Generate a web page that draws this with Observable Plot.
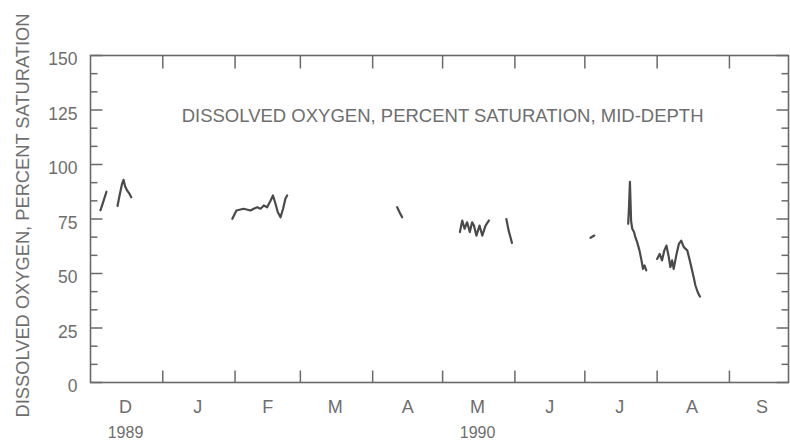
<!DOCTYPE html>
<html>
<head>
<meta charset="utf-8">
<script src="https://cdn.jsdelivr.net/npm/d3@7"></script>
<script src="https://cdn.jsdelivr.net/npm/@observablehq/plot@0.6"></script>
<style>
  html, body { margin: 0; padding: 0; background: #fff; }
</style>
</head>
<body>
<div id="chart"></div>
<script>
// ---- data ----
const times = [
  "1989-12-05 06", "1989-12-06 12", "1989-12-07 20",
  "1989-12-12 14", "1989-12-13 12", "1989-12-14 12", "1989-12-15 04", "1989-12-15 20", "1989-12-16 18", "1989-12-17 18", "1989-12-18 12",
  "1990-01-30 20", "1990-02-01 14", "1990-02-04 16", "1990-02-07 14", "1990-02-09 00", "1990-02-10 12", "1990-02-11 22", "1990-02-13 08", "1990-02-14 18", "1990-02-16 06", "1990-02-17 06", "1990-02-18 08", "1990-02-19 08", "1990-02-20 12", "1990-02-21 14", "1990-02-22 14", "1990-02-23 08",
  "1990-04-11 12", "1990-04-12 14", "1990-04-13 16",
  "1990-05-08 10", "1990-05-09 10", "1990-05-10 10", "1990-05-11 12", "1990-05-12 16", "1990-05-13 16", "1990-05-14 10", "1990-05-15 12", "1990-05-16 20", "1990-05-18 00", "1990-05-19 10", "1990-05-20 20",
  "1990-05-28 08", "1990-05-29 06", "1990-05-30 18",
  "1990-07-03 10", "1990-07-05 02",
  "1990-07-19 14", "1990-07-19 22", "1990-07-20 08", "1990-07-20 20", "1990-07-21 08", "1990-07-22 02", "1990-07-22 16", "1990-07-23 10", "1990-07-24 10", "1990-07-25 04", "1990-07-25 22", "1990-07-26 14", "1990-07-27 08",
  "1990-08-01 00", "1990-08-02 02", "1990-08-03 02", "1990-08-04 02", "1990-08-05 00", "1990-08-06 00", "1990-08-06 16", "1990-08-07 10", "1990-08-08 02", "1990-08-09 08", "1990-08-10 08", "1990-08-11 08", "1990-08-12 10", "1990-08-13 22", "1990-08-15 00", "1990-08-16 00", "1990-08-16 16", "1990-08-17 10", "1990-08-18 10", "1990-08-19 08"
];
const saturation = [
  79, 83, 87.5,
  81, 86, 91, 93, 90, 88, 86.5, 85,
  75.1, 78.9, 79.7, 78.9, 79.7, 80.4, 79.7, 81.2, 80.4, 83.5, 85.8, 82.0, 78.1, 75.8, 79.7, 84.3, 85.8,
  80.4, 78, 75.8,
  69.0, 74.3, 70.5, 73.5, 69.0, 73.5, 72.0, 67.4, 72.0, 67.4, 72.0, 74.3,
  75, 70, 64,
  66.4, 67.4,
  72.8, 80, 92, 74, 70.5, 69, 66.7, 64.4, 60.6, 56.7, 52.1, 53.7, 51.4,
  56.7, 59, 56, 60.6, 62.8, 57.5, 52.9, 56, 52.1, 59, 63.6, 65.1, 62.1, 60.6, 56, 51.4, 48.3, 44.5, 41.4, 39.4
];
const runs = [
  0, 0, 0,
  1, 1, 1, 1, 1, 1, 1, 1,
  2, 2, 2, 2, 2, 2, 2, 2, 2, 2, 2, 2, 2, 2, 2, 2, 2,
  3, 3, 3,
  4, 4, 4, 4, 4, 4, 4, 4, 4, 4, 4, 4,
  5, 5, 5,
  6, 6,
  7, 7, 7, 7, 7, 7, 7, 7, 7, 7, 7, 7, 7,
  8, 8, 8, 8, 8, 8, 8, 8, 8, 8, 8, 8, 8, 8, 8, 8, 8, 8, 8, 8
];

const xDomain = ["1989-12-01 00", "1990-09-26 08"];
const monthStarts = ["1990-01-01 00", "1990-02-01 00", "1990-03-01 00", "1990-04-01 00", "1990-05-01 00", "1990-06-01 00", "1990-07-01 00", "1990-08-01 00", "1990-09-01 00"];
const monthMids = ["1989-12-16 00", "1990-01-16 00", "1990-02-15 00", "1990-03-16 00", "1990-04-16 00", "1990-05-16 00", "1990-06-16 00", "1990-07-16 00", "1990-08-16 00", "1990-09-15 00"];
const monthLabels = ["D", "J", "F", "M", "A", "M", "J", "J", "A", "S"];
const yearPos = ["1989-12-16 00", "1990-05-16 00"];
const yearLabels = ["1989", "1990"];
const yMajor = [0, 25, 50, 75, 100, 125, 150];
const yMinor = [8.33, 16.67, 33.33, 41.67, 58.33, 66.67, 83.33, 91.67, 108.33, 116.67, 133.33, 141.67];
const chartTitle = "DISSOLVED OXYGEN, PERCENT SATURATION, MID-DEPTH";
const titlePos = ["1990-05-01 00", 122];
const yLabel = "DISSOLVED OXYGEN, PERCENT SATURATION";

// ---- build ----
const parse = d3.utcParse("%Y-%m-%d %H");
const points = times.map((t, i) => ({t: parse(t), v: saturation[i], run: runs[i]}));
const x0 = parse(xDomain[0]), x1 = parse(xDomain[1]);

const tickSym = (ux, uy) => ({
  draw(ctx, size) {
    const L = Math.sqrt(size / Math.PI);
    ctx.moveTo(0, 0);
    ctx.lineTo(ux * L, uy * L);
  }
});

const axisColor = "#6a6a6a";
const textColor = "#6e6e6e";
const font = "'Liberation Sans', Arial, Helvetica, sans-serif";

const chart = Plot.plot({
  width: 790,
  height: 442,
  marginLeft: 90,
  marginRight: 2,
  marginTop: 55,
  marginBottom: 60,
  style: {fontFamily: font, background: "#fff"},
  x: {type: "utc", domain: [x0, x1], axis: null},
  y: {domain: [0, 150], axis: null},
  marks: [
    Plot.frame({stroke: axisColor, strokeWidth: 1.6}),
    // left & right axis ticks (inward)
    Plot.dot(yMajor, {x: () => x0, y: d => d, symbol: tickSym(1, 0), r: 12, stroke: axisColor, strokeWidth: 1.5, fill: "none"}),
    Plot.dot(yMinor, {x: () => x0, y: d => d, symbol: tickSym(1, 0), r: 7, stroke: axisColor, strokeWidth: 1.5, fill: "none"}),
    Plot.dot(yMajor, {x: () => x1, y: d => d, symbol: tickSym(-1, 0), r: 12, stroke: axisColor, strokeWidth: 1.5, fill: "none"}),
    Plot.dot(yMinor, {x: () => x1, y: d => d, symbol: tickSym(-1, 0), r: 7, stroke: axisColor, strokeWidth: 1.5, fill: "none"}),
    // bottom & top month ticks (inward)
    Plot.dot(monthStarts, {x: d => parse(d), y: () => 0, symbol: tickSym(0, -1), r: 12, stroke: axisColor, strokeWidth: 1.5, fill: "none"}),
    Plot.dot(monthStarts, {x: d => parse(d), y: () => 150, symbol: tickSym(0, 1), r: 13, stroke: axisColor, strokeWidth: 1.5, fill: "none"}),
    // y tick labels
    Plot.text(yMajor, {x: () => x0, y: d => d, text: d => String(d), textAnchor: "end", dx: -13, dy: 4, fontSize: 17.5, fill: textColor}),
    // month labels
    Plot.text(monthLabels, {x: (d, i) => parse(monthMids[i]), y: () => 0, text: d => d, dy: 25, fontSize: 18, fill: textColor}),
    Plot.text(yearLabels, {x: (d, i) => parse(yearPos[i]), y: () => 0, text: d => d, dy: 50, fontSize: 16, fill: textColor}),
    // title inside plot
    Plot.text([chartTitle], {x: () => parse(titlePos[0]), y: () => titlePos[1], text: d => d, fontSize: 18.5, fill: textColor}),
    // y axis label
    Plot.text([yLabel], {frameAnchor: "left", y: () => 76.6, text: d => d, rotate: -90, textAnchor: "middle", dx: -67, fontSize: 18.3, fill: textColor}),
    // data
    Plot.line(points, {x: "t", y: "v", z: "run", stroke: "#4a4a4a", strokeWidth: 2.2, strokeLinejoin: "round", strokeLinecap: "round"})
  ]
});
document.getElementById("chart").appendChild(chart);
</script>
</body>
</html>
